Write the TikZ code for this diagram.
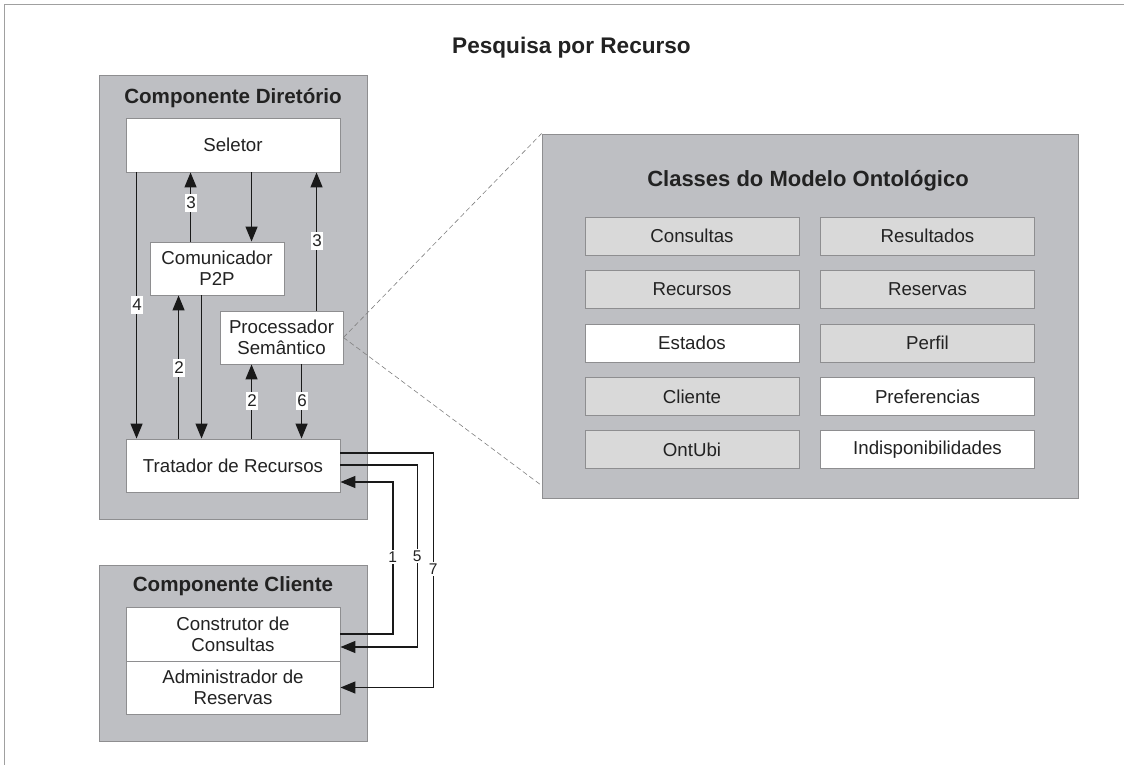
\documentclass[tikz,border=0pt]{standalone}
\usepackage{fontspec}
\setmainfont{Liberation Sans}
\usetikzlibrary{arrows.meta}
\definecolor{panelgray}{HTML}{BEBFC3}
\definecolor{edgegray}{HTML}{8E8E90}
\definecolor{stip}{HTML}{D9D9D9}
\definecolor{txt}{HTML}{222222}
\definecolor{framegray}{HTML}{A0A0A0}
\begin{document}
\begin{tikzpicture}[x=1pt,y=-1pt,
  panel/.style={fill=panelgray, draw=edgegray, line width=0.9pt},
  box/.style={draw=edgegray, fill=white, line width=0.9pt, text=txt,
    font=\fontsize{18.7}{21}\selectfont, align=center, inner sep=0pt},
  cls/.style={box, minimum width=214pt, minimum height=38pt},
  stipbox/.style={cls, fill=stip},
  arr/.style={line width=1.4pt, color=black!90, -{Triangle[length=15pt,width=12pt]}},
  lbl/.style={fill=white, inner xsep=1.5pt, inner ysep=3pt, font=\fontsize{17}{17}\selectfont, text=txt},
  olbl/.style={fill=white, inner xsep=1.5pt, inner ysep=2pt, font=\fontsize{15.5}{15.5}\selectfont, text=txt},
  hdr/.style={font=\bfseries\fontsize{20.6}{24}\selectfont, text=txt},
  dashln/.style={draw=gray, line width=0.6pt, dash pattern=on 5pt off 3pt}
]
\useasboundingbox (0,0) rectangle (1124,765);
% frame
\coordinate (fbl) at (4,765);
\coordinate (ftl) at (4,4);
\coordinate (ftr) at (1124,4);
\draw[framegray, line width=0.8pt] (fbl) -- (ftl) -- (ftr);

% title
\node[font=\bfseries\fontsize{22.6}{26}\selectfont, text=txt] (title) at (571.5,48) {Pesquisa por Recurso};

% panels
\draw[panel] (99,75) rectangle (367,519);
\draw[panel] (99,565) rectangle (367,741);
\node[panel, minimum width=536pt, minimum height=364pt, inner sep=0pt] (onto) at (810,316) {};

\node[hdr] (dirT) at (233,98) {Componente Diretório};
\node[hdr] (cliT) at (233,586) {Componente Cliente};
\node[font=\bfseries\fontsize{22}{26}\selectfont, text=txt] (ontT) at (808,181) {Classes do Modelo Ontológico};

% directory nodes
\node[box, minimum width=214pt, minimum height=54pt] (sel) at (233,145) {Seletor};
\node[box, minimum width=134pt, minimum height=53pt] (com) at (217,268.5) {Comunicador\\P2P};
\node[box, minimum width=123pt, minimum height=53pt] (proc) at (281.5,337.5) {Processador\\Semântico};
\node[box, minimum width=214pt, minimum height=53pt] (trat) at (233,465.5) {Tratador de Recursos};

% client nodes
\node[box, minimum width=214pt, minimum height=54pt] (cons) at (233,634) {Construtor de\\Consultas};
\node[box, minimum width=214pt, minimum height=53pt] (adm) at (233,687.5) {Administrador de\\Reservas};

% dashed zoom lines
\draw[dashln] (proc.east) -- (onto.north west);
\draw[dashln] (proc.east) -- ([yshift=13pt]onto.south west);

% ontology classes
\node[stipbox] (c1) at (692,236) {Consultas};
\node[stipbox] (c2) at (927.5,236) {Resultados};
\node[stipbox] (c3) at (692,289.5) {Recursos};
\node[stipbox] (c4) at (927.5,289.5) {Reservas};
\node[cls] (c5) at (692,343) {Estados};
\node[stipbox] (c6) at (927.5,343) {Perfil};
\node[stipbox] (c7) at (692,396.5) {Cliente};
\node[cls] (c8) at (927.5,396.5) {Preferencias};
\node[stipbox] (c9) at (692,449.5) {OntUbi};
\node[cls] (c10) at (927.5,449.5) {Indisponibilidades};

% vertical arrows in directory
\draw[arr] ([xshift=11pt]sel.south west) -- ([xshift=11pt]trat.north west);
\draw[arr] ([xshift=41pt]com.north west) -- ([xshift=65pt]sel.south west);
\draw[arr] ([xshift=126pt]sel.south west) -- ([xshift=102pt]com.north west);
\draw[arr] ([xshift=97pt]proc.north west) -- ([xshift=191pt]sel.south west);
\draw[arr] ([xshift=53pt]trat.north west) -- ([xshift=29pt]com.south west);
\draw[arr] ([xshift=52pt]com.south west) -- ([xshift=76pt]trat.north west);
\draw[arr] ([xshift=126pt]trat.north west) -- ([xshift=32pt]proc.south west);
\draw[arr] ([xshift=82pt]proc.south west) -- ([xshift=176pt]trat.north west);

\node[lbl] (l4) at (137,305) {4};
\node[lbl] (l3a) at (191,203) {3};
\node[lbl] (l3b) at (317,241) {3};
\node[lbl] (l2a) at (179,368) {2};
\node[lbl] (l2b) at (252,401) {2};
\node[lbl] (l6) at (302,401) {6};

% connectors to client
\draw[arr] ([yshift=12.5pt]trat.east) -- ++(93.3,0) |- (adm.east);
\draw[arr] ([yshift=0.5pt]trat.east) -- ++(77.3,0) |- ([yshift=-13pt]cons.east);
\draw[arr] (cons.east) -- ++(52.7,0) |- ([yshift=-16.5pt]trat.east);

\node[olbl] (l1) at (392.7,557) {1};
\node[olbl] (l5) at (417.3,556) {5};
\node[olbl] (l7) at (433.3,569) {7};
\end{tikzpicture}
\end{document}
